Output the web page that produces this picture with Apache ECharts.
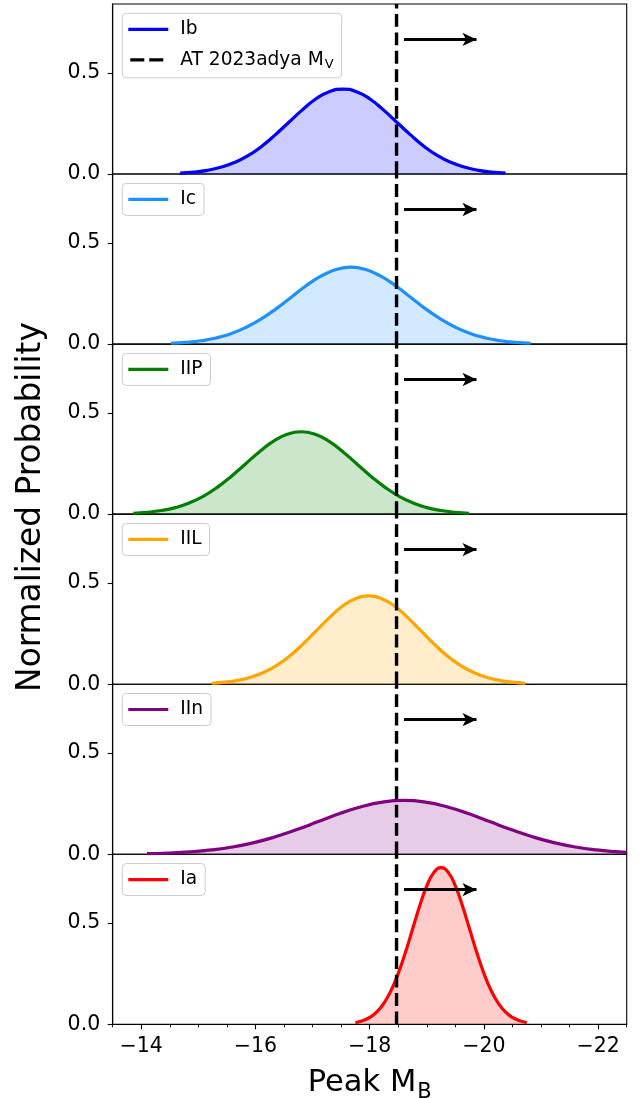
<!DOCTYPE html>
<html><head><meta charset="utf-8">
<script src="https://cdn.jsdelivr.net/npm/echarts@6/dist/echarts.min.js"></script>
<style>html,body{margin:0;padding:0;background:#fff}#c{width:644px;height:1098px}</style>
</head><body><div id="c"></div>
<script>
// ---------- data ----------
const typeNames = ['Ib', 'Ic', 'IIP', 'IIL', 'IIn', 'Ia'];
const lineColors = ['#0000ff', '#1e90ff', '#008000', '#ffa500', '#800080', '#ff0000'];

const ibX = [-14.68,-14.92,-15.155,-15.39,-15.63,-15.87,-16.105,-16.34,-16.58,-16.82,-17.055,-17.29,-17.53,-17.77,-18.005,-18.24,-18.48,-18.72,-18.955,-19.19,-19.43,-19.67,-19.905,-20.14,-20.38];
const ibY = [0.0047,0.0096,0.0184,0.0334,0.0568,0.0908,0.1364,0.1923,0.2547,0.3170,0.3707,0.4071,0.42,0.4071,0.3707,0.3170,0.2547,0.1923,0.1364,0.0908,0.0568,0.0334,0.0184,0.0096,0.0047];

const icX = [-14.52,-14.78,-15.045,-15.31,-15.57,-15.83,-16.095,-16.36,-16.62,-16.88,-17.145,-17.41,-17.67,-17.93,-18.195,-18.46,-18.72,-18.98,-19.245,-19.51,-19.77,-20.03,-20.295,-20.56,-20.82];
const icY = [0.0042,0.0087,0.0167,0.0302,0.0514,0.0822,0.1234,0.1740,0.2305,0.2868,0.3354,0.3683,0.38,0.3683,0.3354,0.2868,0.2305,0.1740,0.1234,0.0822,0.0514,0.0302,0.0167,0.0087,0.0042];

const iipX = [-13.86,-14.105,-14.35,-14.595,-14.84,-15.085,-15.33,-15.575,-15.82,-16.065,-16.31,-16.555,-16.8,-17.045,-17.29,-17.535,-17.78,-18.025,-18.27,-18.515,-18.76,-19.005,-19.25,-19.495,-19.74];
const iipY = [0.0045,0.0093,0.0179,0.0324,0.0551,0.0880,0.1322,0.1863,0.2468,0.3072,0.3592,0.3945,0.407,0.3945,0.3592,0.3072,0.2468,0.1863,0.1322,0.0880,0.0551,0.0324,0.0179,0.0093,0.0045];

const iilX = [-15.235,-15.465,-15.69,-15.92,-16.15,-16.38,-16.61,-16.836,-17.065,-17.294,-17.52,-17.75,-17.98,-18.21,-18.44,-18.666,-18.895,-19.124,-19.35,-19.58,-19.81,-20.04,-20.27,-20.495,-20.725];
const iilY = [0.0048,0.0099,0.0191,0.0347,0.0590,0.0943,0.1416,0.1996,0.2644,0.3291,0.3848,0.4226,0.436,0.4226,0.3848,0.3291,0.2644,0.1996,0.1416,0.0943,0.0590,0.0347,0.0191,0.0099,0.0048];

const iinX = [-14.1,-14.475,-14.85,-15.225,-15.6,-15.975,-16.35,-16.725,-17.1,-17.475,-17.85,-18.225,-18.6,-18.975,-19.35,-19.725,-20.1,-20.475,-20.85,-21.225,-21.6,-21.975,-22.35,-22.5];
const iinY = [0.0030,0.0061,0.0117,0.0212,0.0360,0.0575,0.0864,0.1218,0.1613,0.2008,0.2347,0.2578,0.266,0.2578,0.2347,0.2008,0.1613,0.1218,0.0864,0.0575,0.0360,0.0212,0.0117,0.0090];

const iaX = [-17.75,-17.875,-18.0,-18.125,-18.25,-18.375,-18.5,-18.625,-18.75,-18.875,-19.0,-19.125,-19.25,-19.375,-19.5,-19.625,-19.75,-19.875,-20.0,-20.125,-20.25,-20.375,-20.5,-20.625,-20.75];
const iaY = [0.0086,0.0176,0.0340,0.0616,0.1048,0.1675,0.2514,0.3545,0.4695,0.5844,0.6833,0.7504,0.774,0.7504,0.6833,0.5844,0.4695,0.3545,0.2514,0.1675,0.1048,0.0616,0.0340,0.0176,0.0086];

const curveX = [ibX, icX, iipX, iilX, iinX, iaX];
const curveY = [ibY, icY, iipY, iilY, iinY, iaY];

const adyaName = 'AT 2023adya M_V';
const adyaMV = -18.47;
const arrowStart = -18.6, arrowEnd = -19.87, arrowY = 0.665;

const xMin = -22.5, xMax = -13.5, yMin = 0, yMax = 0.84;
const xMajorTicks = [-22, -20, -18, -16, -14];
const xMinorTicks = [-22.5,-22,-21.5,-21,-20.5,-20,-19.5,-19,-18.5,-18,-17.5,-17,-16.5,-16,-15.5,-15,-14.5,-14,-13.5];
const yTicks = [0, 0.5];

// ---------- layout ----------
const FONT = 'DejaVu Sans';
const plotLeft = 112.7, plotWidth = 514, plotTop = 4, panelH = 170.05;
const n = typeNames.length;
const solidIcon = 'path://M0,0h40v3.2h-40z';
const dashIcon = 'path://M0,0h0.01v3.2h-0.01zM2,0h14v3.2h-14zM21,0h14v3.2h-14zM39.99,0h0.01v3.2h-0.01z';

const grids = [], xAxes = [], yAxes = [], series = [], legends = [];
const minusFmt = v => (v < 0 ? '\u2212' + Math.abs(v) : String(v));
const legendRich = {
  a: { fontSize: 18.6, fontFamily: FONT, color: '#000' },
  sub: { fontSize: 13, fontFamily: FONT, color: '#000', verticalAlign: 'bottom', padding: [0, 0, -2, 1] }
};

for (let i = 0; i < n; i++) {
  const top = plotTop + i * panelH;
  const last = i === n - 1;
  grids.push({ left: plotLeft, width: plotWidth, top: top, height: panelH, show: true,
    outerBoundsMode: 'none', containLabel: false,
    borderColor: '#000', borderWidth: 1.1, backgroundColor: 'transparent' });
  xAxes.push({
    type: 'value', gridIndex: i, min: xMin, max: xMax, inverse: true,
    axisLine: { show: last, onZero: false, lineStyle: { color: '#000', width: 1.1 } },
    axisTick: { show: last, length: 5, lineStyle: { color: '#000', width: 1.1 }, customValues: xMajorTicks },
    axisLabel: { show: last, customValues: xMajorTicks, formatter: minusFmt, fontSize: 20.5,
      fontFamily: FONT, color: '#000', margin: 12 },
    splitLine: { show: false },
    name: last ? '{a|Peak M}{sub|B}' : '',
    nameLocation: 'middle', nameGap: 43.5,
    nameTextStyle: { fontSize: 30.5, fontFamily: FONT, color: '#000',
      rich: { a: { fontSize: 30.5, fontFamily: FONT, color: '#000' },
              sub: { fontSize: 21, fontFamily: FONT, color: '#000', verticalAlign: 'bottom', padding: [0, 0, -4, 1] } } }
  });
  yAxes.push({
    type: 'value', gridIndex: i, min: yMin, max: yMax,
    axisLine: { show: true, lineStyle: { color: '#000', width: 1.1 } },
    axisTick: { show: true, length: 5, lineStyle: { color: '#000', width: 1.1 }, customValues: yTicks },
    axisLabel: { customValues: yTicks, formatter: v => v.toFixed(1), fontSize: 20.5, fontFamily: FONT,
      color: '#000', margin: 12.5 },
    splitLine: { show: false }
  });

  const pts = curveX[i].map((x, k) => [x, curveY[i][k]]);
  series.push({
    type: 'line', name: typeNames[i], xAxisIndex: i, yAxisIndex: i, data: pts,
    smooth: true, symbol: 'none', showSymbol: false, z: 2,
    lineStyle: { color: lineColors[i], width: 3.2 },
    itemStyle: { color: lineColors[i] },
    areaStyle: { color: lineColors[i], opacity: 0.2 }
  });
  series.push({
    type: 'line', name: adyaName, xAxisIndex: i, yAxisIndex: i,
    data: [[adyaMV, yMin], [adyaMV, yMax]], symbol: 'none', showSymbol: false, z: 4,
    lineStyle: { color: '#000', width: 3.4, type: [12.8, 5.6] },
    itemStyle: { color: '#000' },
    markLine: {
      silent: true, symbol: ['none', 'arrow'], symbolSize: [10, 14], z: 5,
      lineStyle: { color: '#000', width: 3, type: 'solid' }, label: { show: false },
      data: [[{ coord: [arrowStart, arrowY] }, { coord: [arrowEnd, arrowY] }]]
    }
  });

  const legendData = [{ name: typeNames[i], icon: solidIcon }];
  if (i === 0) legendData.push({ name: adyaName, icon: dashIcon });
  legends.push({
    orient: 'vertical', left: 122.3, top: top + 9.3,
    data: legendData,
    itemWidth: 40, itemHeight: 3.2, itemGap: 11.5,
    padding: [6.5, 8, 6.5, 6],
    backgroundColor: 'rgba(255,255,255,0.8)', borderColor: '#cccccc', borderWidth: 1, borderRadius: 4,
    selectedMode: false,
    textStyle: { fontSize: 18.6, fontFamily: FONT, color: '#000', padding: [0, 0, 0, 7], rich: legendRich },
    formatter: name => name === adyaName ? '{a|AT 2023adya M}{sub|V}' : name
  });
}

// minor ticks on bottom panel
xAxes.push({
  type: 'value', gridIndex: n - 1, min: xMin, max: xMax, inverse: true, position: 'bottom',
  axisLine: { show: false },
  axisTick: { show: true, length: 3, lineStyle: { color: '#000', width: 0.9 }, customValues: xMinorTicks },
  axisLabel: { show: false }, splitLine: { show: false }
});

const chart = echarts.init(document.getElementById('c'), null, { renderer: 'canvas' });
chart.setOption({
  animation: false,
  backgroundColor: '#fff',
  textStyle: { fontFamily: FONT },
  grid: grids, xAxis: xAxes, yAxis: yAxes, series: series, legend: legends,
  graphic: [{
    type: 'text', x: 31, y: 507, rotation: Math.PI / 2,
    style: { text: 'Normalized Probability', font: '32.8px "DejaVu Sans"', fill: '#000',
      textAlign: 'center', textVerticalAlign: 'middle' }
  }]
});
</script>
</body></html>
